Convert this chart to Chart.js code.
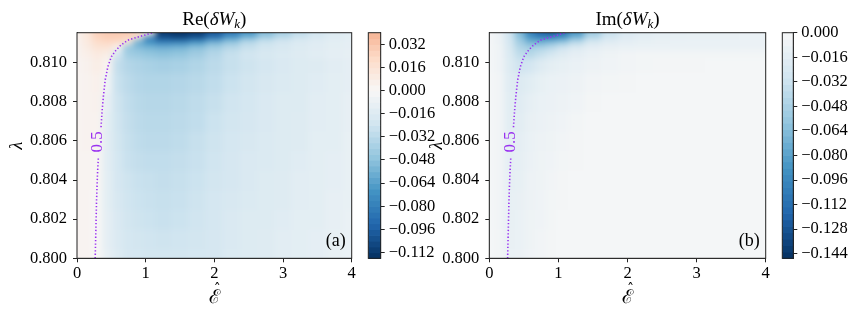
<!DOCTYPE html>
<html>
<head>
<meta charset="utf-8">
<script src="https://cdn.jsdelivr.net/npm/chart.js@4"></script>
<style>
body { margin: 0; background: #fff; width: 859px; height: 316px; overflow: hidden; position: relative; }
canvas { position: absolute; top: 0; }
</style>
</head>
<body>
<canvas id="cbA" style="left:360px" width="90" height="316"></canvas>
<canvas id="plotA" style="left:0px" width="362" height="316"></canvas>
<canvas id="plotB" style="left:420px" width="355" height="316"></canvas>
<canvas id="cbB" style="left:774px" width="85" height="316"></canvas>
<script>
// grid (x = E hat, y = lambda), rows go bottom -> top
var epsCols = [0, 0.15, 0.3, 0.45, 0.6, 0.75, 0.9, 1.05, 1.25, 1.5, 1.75, 2.0, 2.25, 2.5, 2.75, 3.0, 3.25, 3.5, 3.75, 4.0];
var lamRows = [0.8000, 0.8010, 0.8020, 0.8030, 0.8040, 0.8050, 0.8060, 0.8070, 0.8080, 0.8090, 0.8100, 0.8105, 0.8108, 0.8111, 0.8113, 0.8115];
var lamMax = 0.81153;

// Re(dW_k)
var reW = [
  [0.003, 0.003, 0.001, -0.010, -0.016, -0.020, -0.021, -0.022, -0.022, -0.022, -0.021, -0.020, -0.017, -0.016, -0.015, -0.013, -0.012, -0.011, -0.009, -0.008],
  [0.003, 0.003, 0.001, -0.011, -0.017, -0.021, -0.022, -0.023, -0.024, -0.023, -0.022, -0.020, -0.018, -0.016, -0.015, -0.013, -0.012, -0.011, -0.009, -0.008],
  [0.003, 0.003, 0.001, -0.011, -0.018, -0.022, -0.024, -0.025, -0.026, -0.025, -0.023, -0.021, -0.018, -0.016, -0.016, -0.014, -0.012, -0.012, -0.010, -0.008],
  [0.003, 0.003, 0.001, -0.012, -0.019, -0.023, -0.025, -0.026, -0.027, -0.026, -0.024, -0.021, -0.019, -0.017, -0.016, -0.015, -0.013, -0.012, -0.010, -0.009],
  [0.003, 0.003, 0.002, -0.012, -0.020, -0.024, -0.026, -0.027, -0.028, -0.027, -0.025, -0.022, -0.020, -0.018, -0.016, -0.015, -0.013, -0.012, -0.011, -0.009],
  [0.003, 0.003, 0.002, -0.013, -0.021, -0.026, -0.028, -0.029, -0.029, -0.028, -0.026, -0.023, -0.020, -0.018, -0.017, -0.016, -0.014, -0.012, -0.011, -0.009],
  [0.003, 0.004, 0.003, -0.013, -0.022, -0.027, -0.030, -0.031, -0.031, -0.030, -0.027, -0.024, -0.021, -0.019, -0.017, -0.016, -0.015, -0.012, -0.012, -0.009],
  [0.003, 0.004, 0.004, -0.012, -0.023, -0.028, -0.031, -0.032, -0.032, -0.031, -0.029, -0.025, -0.022, -0.020, -0.018, -0.016, -0.015, -0.013, -0.012, -0.010],
  [0.003, 0.004, 0.005, -0.010, -0.024, -0.029, -0.032, -0.033, -0.033, -0.032, -0.030, -0.027, -0.023, -0.021, -0.018, -0.016, -0.016, -0.013, -0.012, -0.010],
  [0.003, 0.004, 0.006, -0.005, -0.026, -0.031, -0.034, -0.035, -0.035, -0.034, -0.032, -0.029, -0.025, -0.022, -0.019, -0.017, -0.016, -0.014, -0.012, -0.011],
  [0.003, 0.005, 0.008, 0.003, -0.028, -0.034, -0.036, -0.038, -0.039, -0.038, -0.035, -0.031, -0.027, -0.024, -0.021, -0.018, -0.016, -0.015, -0.013, -0.011],
  [0.004, 0.007, 0.011, 0.008, -0.020, -0.040, -0.043, -0.046, -0.048, -0.046, -0.041, -0.034, -0.027, -0.022, -0.019, -0.017, -0.015, -0.013, -0.011, -0.010],
  [0.004, 0.009, 0.016, 0.016, 0.004, -0.045, -0.050, -0.054, -0.056, -0.054, -0.048, -0.040, -0.033, -0.027, -0.022, -0.019, -0.016, -0.014, -0.012, -0.011],
  [0.004, 0.011, 0.021, 0.024, 0.022, 0.012, -0.060, -0.070, -0.080, -0.078, -0.068, -0.055, -0.045, -0.032, -0.025, -0.020, -0.017, -0.014, -0.012, -0.011],
  [0.005, 0.012, 0.025, 0.028, 0.028, 0.026, 0.010, -0.085, -0.102, -0.106, -0.100, -0.085, -0.065, -0.050, -0.036, -0.028, -0.022, -0.018, -0.014, -0.012],
  [0.005, 0.013, 0.027, 0.030, 0.030, 0.030, 0.027, 0.008, -0.112, -0.115, -0.112, -0.100, -0.085, -0.070, -0.052, -0.040, -0.030, -0.022, -0.016, -0.013]
];

// Im(dW_k)
var imW = [
  [-0.002, -0.004, -0.010, -0.009, -0.006, -0.005, -0.003, -0.002, -0.002, -0.002, -0.002, -0.002, -0.002, -0.002, -0.002, -0.002, -0.002, -0.002, -0.002, -0.002],
  [-0.002, -0.004, -0.011, -0.010, -0.007, -0.005, -0.003, -0.002, -0.002, -0.002, -0.002, -0.002, -0.002, -0.002, -0.002, -0.002, -0.002, -0.002, -0.002, -0.002],
  [-0.002, -0.005, -0.012, -0.010, -0.007, -0.006, -0.004, -0.002, -0.002, -0.002, -0.002, -0.002, -0.002, -0.002, -0.002, -0.002, -0.002, -0.002, -0.002, -0.002],
  [-0.002, -0.005, -0.012, -0.011, -0.008, -0.006, -0.004, -0.003, -0.002, -0.002, -0.002, -0.002, -0.002, -0.002, -0.002, -0.002, -0.002, -0.002, -0.002, -0.002],
  [-0.002, -0.005, -0.013, -0.012, -0.008, -0.007, -0.005, -0.003, -0.002, -0.002, -0.002, -0.002, -0.002, -0.002, -0.002, -0.002, -0.002, -0.002, -0.002, -0.002],
  [-0.002, -0.005, -0.014, -0.013, -0.009, -0.007, -0.006, -0.004, -0.003, -0.002, -0.002, -0.002, -0.002, -0.002, -0.002, -0.002, -0.002, -0.002, -0.002, -0.002],
  [-0.002, -0.005, -0.015, -0.014, -0.010, -0.008, -0.007, -0.005, -0.003, -0.002, -0.002, -0.002, -0.002, -0.002, -0.002, -0.002, -0.002, -0.002, -0.002, -0.002],
  [-0.002, -0.005, -0.016, -0.016, -0.011, -0.009, -0.008, -0.006, -0.004, -0.002, -0.002, -0.002, -0.002, -0.002, -0.002, -0.002, -0.002, -0.002, -0.002, -0.002],
  [-0.002, -0.005, -0.017, -0.018, -0.013, -0.010, -0.009, -0.008, -0.006, -0.003, -0.002, -0.002, -0.002, -0.002, -0.002, -0.002, -0.002, -0.002, -0.002, -0.002],
  [-0.002, -0.005, -0.018, -0.021, -0.017, -0.012, -0.010, -0.009, -0.008, -0.005, -0.004, -0.003, -0.002, -0.002, -0.002, -0.002, -0.002, -0.002, -0.002, -0.002],
  [-0.002, -0.006, -0.020, -0.030, -0.027, -0.019, -0.015, -0.012, -0.010, -0.008, -0.006, -0.005, -0.004, -0.003, -0.003, -0.003, -0.002, -0.002, -0.002, -0.002],
  [-0.002, -0.006, -0.022, -0.038, -0.042, -0.034, -0.026, -0.019, -0.014, -0.010, -0.007, -0.005, -0.004, -0.004, -0.004, -0.004, -0.004, -0.004, -0.004, -0.004],
  [-0.002, -0.007, -0.024, -0.044, -0.050, -0.046, -0.040, -0.030, -0.020, -0.014, -0.011, -0.010, -0.010, -0.010, -0.010, -0.010, -0.010, -0.010, -0.009, -0.009],
  [-0.002, -0.008, -0.026, -0.052, -0.070, -0.072, -0.064, -0.056, -0.040, -0.025, -0.018, -0.014, -0.012, -0.011, -0.010, -0.010, -0.010, -0.010, -0.009, -0.009],
  [-0.002, -0.008, -0.028, -0.058, -0.084, -0.094, -0.094, -0.086, -0.064, -0.038, -0.025, -0.018, -0.014, -0.012, -0.012, -0.011, -0.011, -0.011, -0.010, -0.010],
  [-0.002, -0.009, -0.030, -0.066, -0.100, -0.118, -0.124, -0.112, -0.088, -0.055, -0.033, -0.022, -0.017, -0.014, -0.013, -0.012, -0.012, -0.011, -0.010, -0.010]
];

// the dotted 0.5 contour, split where its label sits
var lineLowEps = [0.265, 0.275, 0.285, 0.298, 0.312];
var lineLowLam = [0.8000, 0.8015, 0.8030, 0.8043, 0.8052];
var lineUpEps = [0.35, 0.365, 0.385, 0.41, 0.45, 0.50, 0.56, 0.64, 0.74, 0.86, 0.98, 1.10];
var lineUpLam = [0.8067, 0.8075, 0.8083, 0.8091, 0.8098, 0.8103, 0.8106, 0.8109, 0.81115, 0.81128, 0.8114, 0.81153];
var lineLabel = '0.5';

var xTicks = [0, 1, 2, 3, 4];
var yTicks = [0.800, 0.802, 0.804, 0.806, 0.808, 0.810];
var cbTicksRe = [0.032, 0.016, 0.000, -0.016, -0.032, -0.048, -0.064, -0.080, -0.096, -0.112];
var cbTicksIm = [0.000, -0.016, -0.032, -0.048, -0.064, -0.080, -0.096, -0.112, -0.128, -0.144];
var cbRangeRe = [-0.116, 0.040];
var cbRangeIm = [-0.147, 0.000];

var serif = "'Liberation Serif', 'Times New Roman', serif";
var purple = '#9a32f0';
var axisCol = '#222';
var rdbu = ['#053061', '#2166ac', '#4393c3', '#92c5de', '#d1e5f0', '#f7f7f7', '#fddbc7', '#f4a582', '#d6604d', '#b2182b', '#67001f'];
var rdbuRgb = rdbu.map(function(c) {
  return [parseInt(c.substr(1, 2), 16), parseInt(c.substr(3, 2), 16), parseInt(c.substr(5, 2), 16)];
});

function cmap(t) {
  t = Math.max(0, Math.min(1, t));
  var p = t * 10, i = Math.min(9, Math.floor(p)), f = p - i;
  var a = rdbuRgb[i], b = rdbuRgb[i + 1];
  return 'rgb(' + Math.round(a[0] + f * (b[0] - a[0])) + ',' + Math.round(a[1] + f * (b[1] - a[1])) + ',' + Math.round(a[2] + f * (b[2] - a[2])) + ')';
}
function colorFor(v, range) {
  var vabs = Math.max(Math.abs(range[0]), Math.abs(range[1]));
  return cmap((v + vabs) / (2 * vabs));
}
function fmt3(v) {
  if (Math.abs(v) < 1e-9) return '0.000';
  return (v < 0 ? '\u2212' : '') + Math.abs(v).toFixed(3);
}
function cellEdges(p, ext) {
  var e = [p[0] - (p[1] - p[0]) / 2 - ext * Math.sign(p[1] - p[0])];
  for (var k = 0; k < p.length - 1; k++) e.push((p[k] + p[k + 1]) / 2);
  var n = p.length - 1;
  e.push(p[n] + (p[n] - p[n - 1]) / 2 + ext * Math.sign(p[n] - p[n - 1]));
  return e;
}

// filled map, drawn cell by cell through the scales, softened a little
var heatPlugin = {
  id: 'heat',
  beforeDatasetsDraw: function(chart, args, opts) {
    var xs = chart.scales.x, ys = chart.scales.y, a = chart.chartArea;
    var off = document.createElement('canvas');
    off.width = chart.width; off.height = chart.height;
    var c = off.getContext('2d');
    var xe = cellEdges(epsCols.map(function(v) { return xs.getPixelForValue(v); }), 14);
    var ye = cellEdges(lamRows.map(function(v) { return ys.getPixelForValue(v); }), 14);
    for (var i = 0; i < lamRows.length; i++) {
      for (var j = 0; j < epsCols.length; j++) {
        c.fillStyle = colorFor(opts.values[i][j], opts.range);
        var top = Math.min(ye[i], ye[i + 1]), h = Math.abs(ye[i] - ye[i + 1]);
        c.fillRect(xe[j] - 0.5, top - 0.5, xe[j + 1] - xe[j] + 1, h + 1);
      }
    }
    var ctx = chart.ctx;
    ctx.save();
    ctx.beginPath();
    ctx.rect(a.left, a.top, a.right - a.left, a.bottom - a.top);
    ctx.clip();
    ctx.filter = 'blur(3px)';
    ctx.drawImage(off, 0, 0);
    ctx.restore();
  }
};

var decorPlugin = {
  id: 'decor',
  afterDatasetsDraw: function(chart, args, opts) {
    var ctx = chart.ctx, a = chart.chartArea, xs = chart.scales.x, ys = chart.scales.y;
    ctx.save();
    ctx.strokeStyle = axisCol;
    ctx.lineWidth = 1;
    ctx.strokeRect(a.left, a.top, a.right - a.left, a.bottom - a.top);

    // panel letter
    ctx.fillStyle = '#000';
    ctx.font = '18px ' + serif;
    ctx.textAlign = 'right';
    ctx.textBaseline = 'alphabetic';
    ctx.fillText(opts.letter, a.right - 6, a.bottom - 12);

    // contour label in the gap of the dotted line
    var lx = (xs.getPixelForValue(lineLowEps[lineLowEps.length - 1]) + xs.getPixelForValue(lineUpEps[0])) / 2;
    var ly = (ys.getPixelForValue(lineLowLam[lineLowLam.length - 1]) + ys.getPixelForValue(lineUpLam[0])) / 2;
    ctx.save();
    ctx.translate(lx - 2, ly);
    ctx.rotate(-Math.PI / 2);
    ctx.fillStyle = purple;
    ctx.font = '17px ' + serif;
    ctx.textAlign = 'center';
    ctx.textBaseline = 'middle';
    ctx.fillText(lineLabel, 0, 0);
    ctx.restore();

    // title  Re(dW_k) / Im(dW_k)
    var parts = [
      { t: opts.prefix + '(', f: '19px ' + serif, dy: 0 },
      { t: '\u03b4W', f: 'italic 19px ' + serif, dy: 0 },
      { t: 'k', f: 'italic 13px ' + serif, dy: 3 },
      { t: ')', f: '19px ' + serif, dy: 0 }
    ];
    var w = 0;
    parts.forEach(function(p) { ctx.font = p.f; p.w = ctx.measureText(p.t).width; w += p.w; });
    var x = (a.left + a.right) / 2 - w / 2, base = a.top - 8;
    ctx.fillStyle = '#000';
    ctx.textAlign = 'left';
    ctx.textBaseline = 'alphabetic';
    parts.forEach(function(p) { ctx.font = p.f; ctx.fillText(p.t, x, base + p.dy); x += p.w; });

    // x axis label: script E with a hat
    var cx = (a.left + a.right) / 2;
    ctx.textAlign = 'center';
    ctx.font = '19px "DejaVu Serif", serif';
    ctx.fillText('\u2130', cx, 303);
    ctx.font = '14px "DejaVu Serif", serif';
    ctx.fillText('\u02c6', cx + 3, 294);
    ctx.restore();
  }
};

var cbarPlugin = {
  id: 'cbar',
  beforeDatasetsDraw: function(chart, args, opts) {
    var ys = chart.scales.y, a = chart.chartArea, ctx = chart.ctx;
    var r = opts.range, n = opts.bands, d = (r[1] - r[0]) / n;
    for (var k = 0; k < n; k++) {
      var lo = r[0] + k * d, hi = lo + d;
      var y0 = ys.getPixelForValue(lo), y1 = ys.getPixelForValue(hi);
      ctx.fillStyle = colorFor((lo + hi) / 2, r);
      ctx.fillRect(a.left, y1, a.right - a.left, y0 - y1 + 0.7);
    }
    ctx.strokeStyle = axisCol;
    ctx.lineWidth = 1;
    ctx.strokeRect(a.left, a.top, a.right - a.left, a.bottom - a.top);
  }
};

function tickFont() { return { family: serif, size: 16.5 }; }

function plotConfig(values, range, letter, prefix, yW, padR) {
  return {
    type: 'scatter',
    data: {
      datasets: [
        { data: lineLowEps.map(function(e, i) { return { x: e, y: lineLowLam[i] }; }),
          showLine: true, borderColor: purple, borderWidth: 1.6, borderDash: [1.3, 2.1], pointRadius: 0 },
        { data: lineUpEps.map(function(e, i) { return { x: e, y: lineUpLam[i] }; }),
          showLine: true, borderColor: purple, borderWidth: 1.6, borderDash: [1.3, 2.1], pointRadius: 0 }
      ]
    },
    options: {
      responsive: false,
      animation: false,
      layout: { padding: { left: 0, right: padR, top: 32.7, bottom: 0 } },
      plugins: {
        legend: { display: false },
        tooltip: { enabled: false },
        heat: { values: values, range: range },
        decor: { letter: letter, prefix: prefix }
      },
      scales: {
        x: {
          type: 'linear', min: 0, max: 4,
          afterBuildTicks: function(s) { s.ticks = xTicks.map(function(v) { return { value: v }; }); },
          afterFit: function(s) { s.height = 57.7; },
          ticks: { font: tickFont(), color: '#000', padding: 1, autoSkip: false, maxRotation: 0,
                   callback: function(v) { return String(v); } },
          grid: { drawOnChartArea: false, tickLength: 4, color: axisCol },
          border: { color: axisCol }
        },
        y: {
          type: 'linear', min: 0.8, max: lamMax,
          afterBuildTicks: function(s) { s.ticks = yTicks.map(function(v) { return { value: v }; }); },
          afterFit: function(s) { s.width = yW; },
          title: { display: true, text: '\u03bb', color: '#000',
                   font: { family: serif, size: 18, style: 'italic' }, padding: { top: 6, bottom: 0 } },
          ticks: { font: tickFont(), color: '#000', padding: 6, autoSkip: false,
                   callback: function(v) { return fmt3(v); } },
          grid: { drawOnChartArea: false, tickLength: 4, color: axisCol },
          border: { color: axisCol }
        }
      }
    },
    plugins: [heatPlugin, decorPlugin]
  };
}

function barConfig(range, ticks, bands, padL, axW) {
  return {
    type: 'scatter',
    data: { datasets: [] },
    options: {
      responsive: false,
      animation: false,
      layout: { padding: { left: padL, right: 0, top: 32.7, bottom: 57.7 } },
      plugins: {
        legend: { display: false },
        tooltip: { enabled: false },
        cbar: { range: range, bands: bands }
      },
      scales: {
        x: { display: false, min: 0, max: 1 },
        y: {
          position: 'right', min: range[0], max: range[1],
          afterBuildTicks: function(s) { s.ticks = ticks.map(function(v) { return { value: v }; }); },
          afterFit: function(s) { s.width = axW; },
          ticks: { font: tickFont(), color: '#000', padding: 4, autoSkip: false,
                   callback: function(v) { return fmt3(v); } },
          grid: { drawOnChartArea: false, tickLength: 4, color: axisCol },
          border: { color: axisCol }
        }
      }
    },
    plugins: [cbarPlugin]
  };
}

new Chart(document.getElementById('cbA'), barConfig(cbRangeRe, cbTicksRe, 39, 8.3, 69.3));
new Chart(document.getElementById('plotA'), plotConfig(reW, cbRangeRe, '(a)', 'Re', 77, 10.3));
new Chart(document.getElementById('plotB'), plotConfig(imW, cbRangeIm, '(b)', 'Im', 69.3, 9.3));
new Chart(document.getElementById('cbB'), barConfig(cbRangeIm, cbTicksIm, 35, 8.3, 65.7));
</script>
</body>
</html>
